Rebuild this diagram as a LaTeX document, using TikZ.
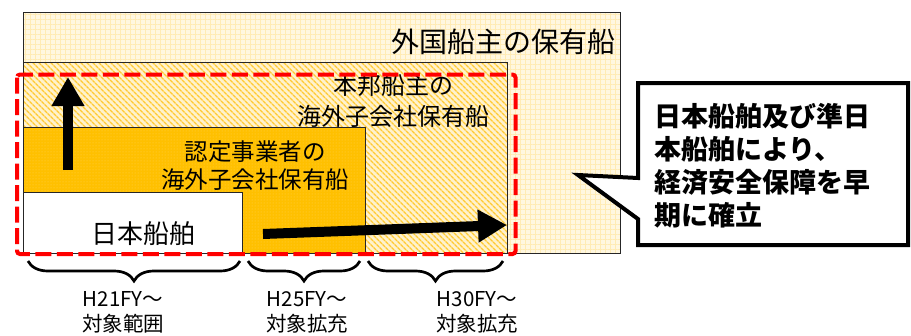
\documentclass[tikz,border=0pt]{standalone}
\usepackage{fontspec}
\setmainfont{Noto Sans CJK JP}
\usetikzlibrary{arrows.meta,patterns,patterns.meta,decorations.pathreplacing}
\definecolor{paleyel}{RGB}{255,247,224}
\definecolor{plaidline}{RGB}{255,235,180}
\definecolor{stripebg}{RGB}{255,242,205}
\definecolor{stripe}{RGB}{255,202,50}
\definecolor{gold}{RGB}{255,192,0}
\definecolor{golddot}{RGB}{255,210,80}
\definecolor{dashred}{RGB}{255,0,0}

\begin{document}
\begin{tikzpicture}[x=1pt,y=-1pt,
  box/.style={draw=black!85,line width=1pt,anchor=north west,inner sep=0pt,outer sep=0pt},
  boxtext/.style={inner sep=0pt,align=center},
  bigarrow/.style={line width=10pt,-{Triangle[length=29pt,width=31pt]}},
  span/.style={decorate,decoration={brace,mirror,amplitude=20pt},line width=2.7pt},
  spantext/.style={inner sep=0pt,align=center,font=\fontsize{20.5}{25}\selectfont}]
\useasboundingbox (0,0) rectangle (911,335);

% nested fleets
\node[box,minimum width=597pt,minimum height=241pt,
  preaction={fill=paleyel},
  preaction={pattern={Lines[angle=0,distance=5pt,line width=1pt]},pattern color=plaidline},
  preaction={pattern={Lines[angle=90,distance=5pt,line width=1pt]},pattern color=plaidline}]
  (foreign) at (23,12) {};
\node[box,minimum width=484pt,minimum height=191pt,
  preaction={fill=stripebg},
  preaction={pattern={Lines[angle=-45,distance=4pt,line width=1.6pt]},pattern color=stripe}]
  (subsid) at (23,62) {};
\node[box,minimum width=342pt,minimum height=126pt,
  preaction={fill=gold},
  preaction={pattern=dots,pattern color=golddot}]
  (certified) at (23,127) {};
\node[box,fill=white,minimum width=219pt,minimum height=61pt] (japan) at (23,192) {};

\node[boxtext,anchor=east,font=\fontsize{28}{32}\selectfont] (tforeign) at (616,42) {外国船主の保有船};
\node[boxtext,font=\fontsize{24}{31.5}\selectfont] (tsubsid) at (393,101) {本邦船主の\\海外子会社保有船};
\node[boxtext,font=\fontsize{23.5}{28}\selectfont] (tcertified) at (255,166) {認定事業者の\\海外子会社保有船};
\node[boxtext,font=\fontsize{26}{30}\selectfont] (tjapan) at (143,234) {日本船舶};

% scope of the scheme
\draw[dashred,line width=4pt,dash pattern=on 16pt off 5.5pt,rounded corners=3pt]
  (17,74.5) rectangle (515.5,254);

% growth arrows
\coordinate (up0) at (68,170);
\coordinate (up1) at (68,77);
\coordinate (right0) at (263,234);
\coordinate (right1) at (507,225);
\draw[bigarrow] (up0) -- (up1);
\draw[bigarrow] (right0) -- (right1);

% callout
\draw[line width=4pt,fill=white,line join=miter]
  (638,83) -- (908,83) -- (908,245) -- (638,245) -- (638,219) -- (578,175) -- (638,178) -- cycle;
\node[anchor=west,align=left,inner sep=0pt,font=\bfseries\fontsize{27}{33}\selectfont] (claim)
  at (654,166) {日本船舶及び準日\\本船舶により、\\経済安全保障を早\\期に確立};

% periods
\draw[span] (28,261) -- (240,261);
\draw[span] (248,261) -- (360,261);
\draw[span] (368,261) -- (503,261);
\node[spantext] (h21) at (123,312.5) {H21FY～\\対象範囲};
\node[spantext] (h25) at (307,312.5) {H25FY～\\対象拡充};
\node[spantext] (h30) at (477,312.5) {H30FY～\\対象拡充};
\end{tikzpicture}
\end{document}
